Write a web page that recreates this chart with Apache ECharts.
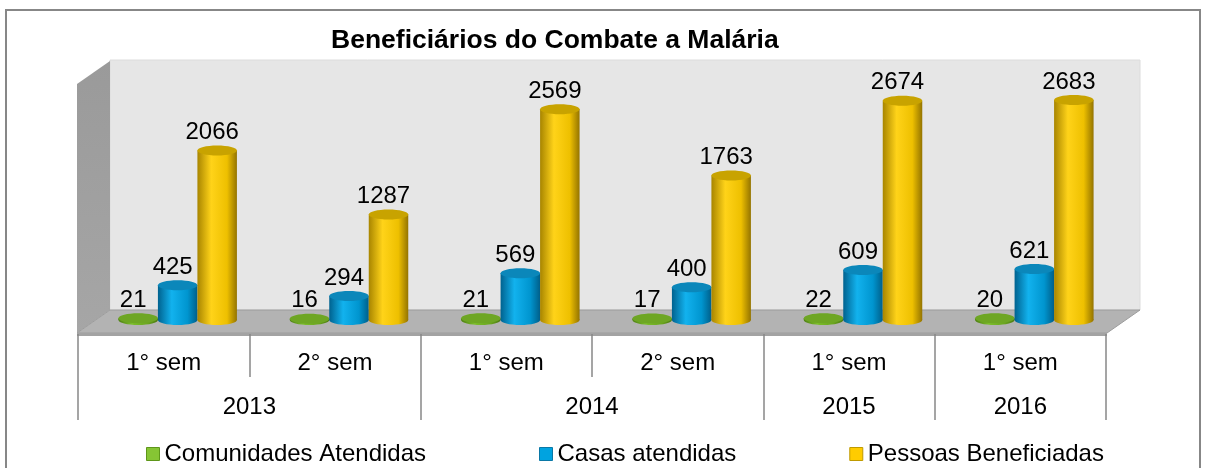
<!DOCTYPE html>
<html>
<head>
<meta charset="utf-8">
<script src="https://cdn.jsdelivr.net/npm/echarts@6/dist/echarts.min.js"></script>
<style>
  html, body { margin: 0; padding: 0; background: #fff; }
  #chart { width: 1208px; height: 468px; }
</style>
</head>
<body>
<div id="chart"></div>
<script>
// dados
const semestres = ['1° sem', '2° sem', '1° sem', '2° sem', '1° sem', '1° sem'];
const anos = ['2013', '2014', '2015', '2016'];
const semestresPorAno = [2, 2, 1, 1];
const comunidades = [21, 16, 21, 17, 22, 20];
const casas = [425, 294, 569, 400, 609, 621];
const pessoas = [2066, 1287, 2569, 1763, 2674, 2683];

const FONT = '"Liberation Sans", Arial, sans-serif';
const barW = 39.5;

// posições do eixo de anos (limites e centros)
const limites = [0];
semestresPorAno.forEach(n => limites.push(limites[limites.length - 1] + n));
const centros = anos.map((a, i) => (limites[i] + limites[i + 1]) / 2);

// cores dos cilindros
const estilos = [
  { body: ['#4f7f14', '#7cbf2a', '#6aa51f', '#4a7812'], cap: '#6ea624', legend: '#86c534', border: '#5e961a' },
  { body: ['#00628f', '#12b2ee', '#0095cf', '#005f8a'], cap: '#0b87ba', legend: '#00a3e0', border: '#0a78a6' },
  { body: ['#a88500', '#ffd319', '#eec000', '#947400'], cap: '#c8a300', legend: '#ffcc00', border: '#bf9a00' }
];

function bodyGradient(c) {
  return new echarts.graphic.LinearGradient(0, 0, 1, 0, [
    { offset: 0, color: c[0] },
    { offset: 0.35, color: c[1] },
    { offset: 0.75, color: c[2] },
    { offset: 1, color: c[3] }
  ]);
}

function cilindro(idx) {
  const st = estilos[idx];
  const offset = (idx - 1) * barW;
  return function (params, api) {
    const base = api.coord([api.value(0), 0]);
    const topo = api.coord([api.value(0), api.value(1)]);
    const cx = base[0] + offset;
    const rx = barW / 2;
    const ry = 5;
    const grad = bodyGradient(st.body);
    return {
      type: 'group',
      children: [
        { type: 'ellipse', shape: { cx: cx, cy: base[1], rx: rx, ry: ry }, style: { fill: grad } },
        { type: 'rect', shape: { x: cx - rx, y: topo[1], width: barW, height: base[1] - topo[1] }, style: { fill: grad } },
        { type: 'ellipse', shape: { cx: cx, cy: topo[1], rx: rx, ry: ry }, style: { fill: st.cap } },
        {
          type: 'text',
          style: {
            text: String(api.value(1)),
            x: cx - 5,
            y: topo[1] - 18,
            align: 'center',
            verticalAlign: 'middle',
            font: '24px ' + FONT,
            fill: '#000'
          }
        }
      ]
    };
  };
}

const nomes = ['Comunidades Atendidas', 'Casas atendidas', 'Pessoas Beneficiadas'];
const valores = [comunidades, casas, pessoas];

const series = nomes.map((nome, s) => ({
  name: nome,
  type: 'custom',
  xAxisIndex: 0,
  yAxisIndex: 0,
  itemStyle: { color: estilos[s].legend },
  renderItem: cilindro(s),
  encode: { x: 0, y: 1 },
  data: valores[s].map((v, i) => [i, v]),
  z: 2
}));

const chart = echarts.init(document.getElementById('chart'));

chart.setOption({
  animation: false,
  title: {
    text: 'Beneficiários do Combate a Malária',
    left: 326,
    top: 22,
    textStyle: { fontFamily: FONT, fontSize: 26.5, fontWeight: 'bold', color: '#000' }
  },
  legend: {
    left: 141,
    top: 437,
    itemWidth: 13,
    itemHeight: 13,
    itemGap: 113,
    icon: 'rect',
    textStyle: { fontFamily: FONT, fontSize: 24, color: '#000' },
    data: nomes.map((n, s) => ({
      name: n,
      itemStyle: { color: estilos[s].legend, borderColor: estilos[s].border, borderWidth: 1 }
    }))
  },
  graphic: [
    // moldura
    { type: 'rect', z: 0, shape: { x: 6, y: 10, width: 1194, height: 480 }, style: { fill: 'none', stroke: '#878787', lineWidth: 2 } },
    // parede do fundo
    { type: 'rect', z: 0, shape: { x: 110, y: 60, width: 1030, height: 250 }, style: { fill: '#e6e6e6', stroke: '#dcdcdc', lineWidth: 1 } },
    // parede lateral
    {
      type: 'polygon', z: 0,
      shape: { points: [[77, 84], [110, 61], [110, 310], [77, 333]] },
      style: { fill: new echarts.graphic.LinearGradient(0, 0, 0, 1, [{ offset: 0, color: '#9a9a9a' }, { offset: 1, color: '#a6a6a6' }]) }
    },
    // piso
    {
      type: 'polygon', z: 0,
      shape: { points: [[110, 310], [1140, 310], [1107, 333], [77, 333]] },
      style: { fill: '#b3b3b3', stroke: '#9c9c9c', lineWidth: 1 }
    },
    { type: 'rect', z: 0, shape: { x: 77, y: 333, width: 1030, height: 3 }, style: { fill: '#a3a3a3' } }
  ],
  grid: [
    { left: 92, width: 1028, top: 74, bottom: 148 },
    { left: 78, width: 1028, top: 300, bottom: 134 }
  ],
  xAxis: [
    {
      gridIndex: 0,
      type: 'category',
      data: semestres,
      show: false
    },
    {
      gridIndex: 1,
      type: 'category',
      data: semestres,
      position: 'bottom',
      axisLine: { show: false },
      axisTick: { show: true, interval: 0, length: 43, lineStyle: { color: '#888', width: 1.5 } },
      axisLabel: { interval: 0, margin: 17, fontFamily: FONT, fontSize: 24, color: '#000' },
      splitLine: { show: false }
    },
    {
      gridIndex: 1,
      type: 'value',
      min: 0,
      max: limites[limites.length - 1],
      position: 'bottom',
      offset: 0,
      axisLine: { show: false },
      axisTick: { show: true, customValues: limites, length: 86, lineStyle: { color: '#888', width: 1.5 } },
      axisLabel: {
        customValues: centros,
        margin: 61,
        fontFamily: FONT,
        fontSize: 24,
        color: '#000',
        formatter: v => {
          const i = centros.indexOf(v);
          return i >= 0 ? anos[i] : '';
        }
      },
      splitLine: { show: false }
    }
  ],
  yAxis: [
    { gridIndex: 0, type: 'value', min: 0, max: 3000, show: false },
    { gridIndex: 1, type: 'value', show: false }
  ],
  series: series
});
</script>
</body>
</html>
